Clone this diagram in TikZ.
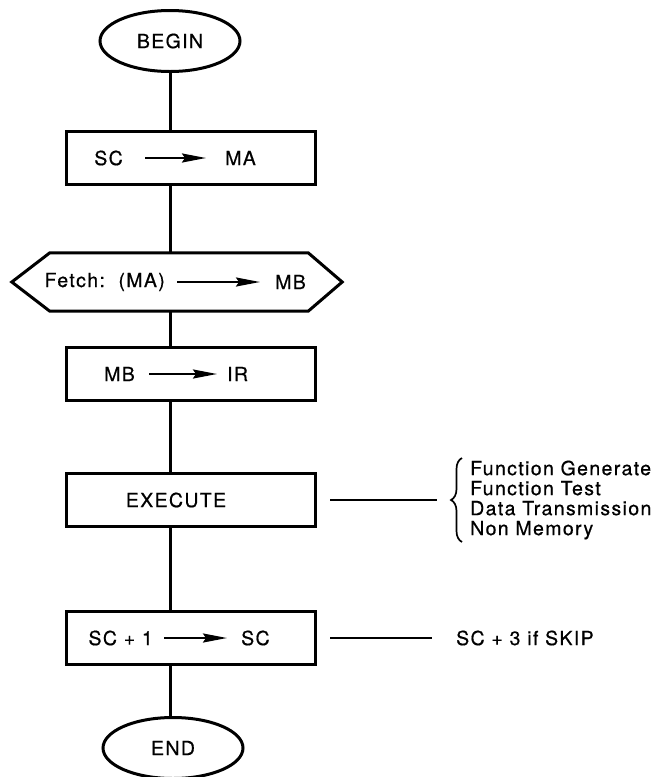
\documentclass[tikz,border=0pt]{standalone}
\usepackage{fontspec}
\setmainfont{TeX Gyre Heros}[LetterSpace=7,FakeBold=0.6]
\usetikzlibrary{arrows.meta,shapes.geometric,decorations.pathreplacing}

\begin{document}
\begin{tikzpicture}[x=1pt,y=-1pt,
  font=\fontsize{19.5}{20}\selectfont,
  every node/.style={inner sep=0pt},
  flow/.style={line width=3pt},
  side/.style={line width=2.2pt},
  box/.style={draw, line width=3pt, minimum width=249pt, minimum height=53pt},
  term/.style={draw, ellipse, line width=3pt, minimum width=140pt, minimum height=61pt},
  xfer/.style={line width=2.2pt, -{Stealth[length=24pt,width=9pt,inset=3pt]}}]

\useasboundingbox (0,0) rectangle (663,777);

% terminals
\node[term] (begin) at (170,41) {BEGIN};
\node[term] (end) at (173,748) {END};

% SC -> MA
\node[box] (b1) at (190.5,158) {};
\node[anchor=east] (b1a) at (123,158) {SC};
\node[anchor=west] (b1b) at (225,158) {MA};
\draw[xfer, shorten <=22pt, shorten >=19pt] (b1a.east) -- (b1b.west);

% fetch hexagon
\node[minimum width=258pt, minimum height=58pt] (hex) at (179,282) {};
\draw[flow, line join=miter] (hex.north west) -- (hex.north east)
  -- ([xshift=34pt]hex.east) -- (hex.south east) -- (hex.south west)
  -- ([xshift=-38pt]hex.west) -- cycle;
\node[anchor=east] (hxa) at (165,282) {Fetch:\ \ (MA)};
\node[anchor=west] (hxb) at (275,282) {MB};
\draw[xfer, shorten <=12pt, shorten >=15pt] (hxa.east) -- (hxb.west);

% MB -> IR
\node[box] (b3) at (190.5,374) {};
\node[anchor=east] (b3a) at (135,374) {MB};
\node[anchor=west] (b3b) at (227,374) {IR};
\draw[xfer, shorten <=14pt, shorten >=10pt] (b3a.east) -- (b3b.west);

% EXECUTE
\node[box] (b4) at (190.5,500) {};
\node (b4a) at (176,500) {EXECUTE};

% SC + 1 -> SC
\node[box] (b5) at (190.5,638) {};
\node[anchor=east] (b5a) at (153,638) {SC + 1};
\node[anchor=west] (b5b) at (241,638) {SC};
\draw[xfer, shorten <=11pt, shorten >=14pt] (b5a.east) -- (b5b.west);

% main flow line
\draw[flow] (begin.south) -- (begin.south |- b1.north);
\draw[flow] (begin.south |- b1.south) -- (begin.south |- hex.north);
\draw[flow] (begin.south |- hex.south) -- (begin.south |- b3.north);
\draw[flow] (begin.south |- b3.south) -- (begin.south |- b4.north);
\draw[flow] (begin.south |- b4.south) -- (begin.south |- b5.north);
\draw[flow] (begin.south |- b5.south) -- (begin.south |- end.north);

% execute notes
\coordinate (x1) at (330,500);
\coordinate (x2) at (437,500);
\draw[side] (x1) -- (x2);
\coordinate (br1) at (462,542);
\coordinate (br2) at (462,458);
\draw[line width=1.7pt, decorate, decoration={brace, amplitude=11pt}] (br1) -- (br2);
\node[anchor=west, align=left] (fn) at (470,500)
  {Function Generate\\Function Test\\Data Transmission\\Non Memory};

% skip note
\coordinate (k1) at (330,638);
\coordinate (k2) at (432,638);
\draw[side] (k1) -- (k2);
\node[anchor=west] (skip) at (456,638) {SC + 3 if SKIP};

\end{tikzpicture}
\end{document}
